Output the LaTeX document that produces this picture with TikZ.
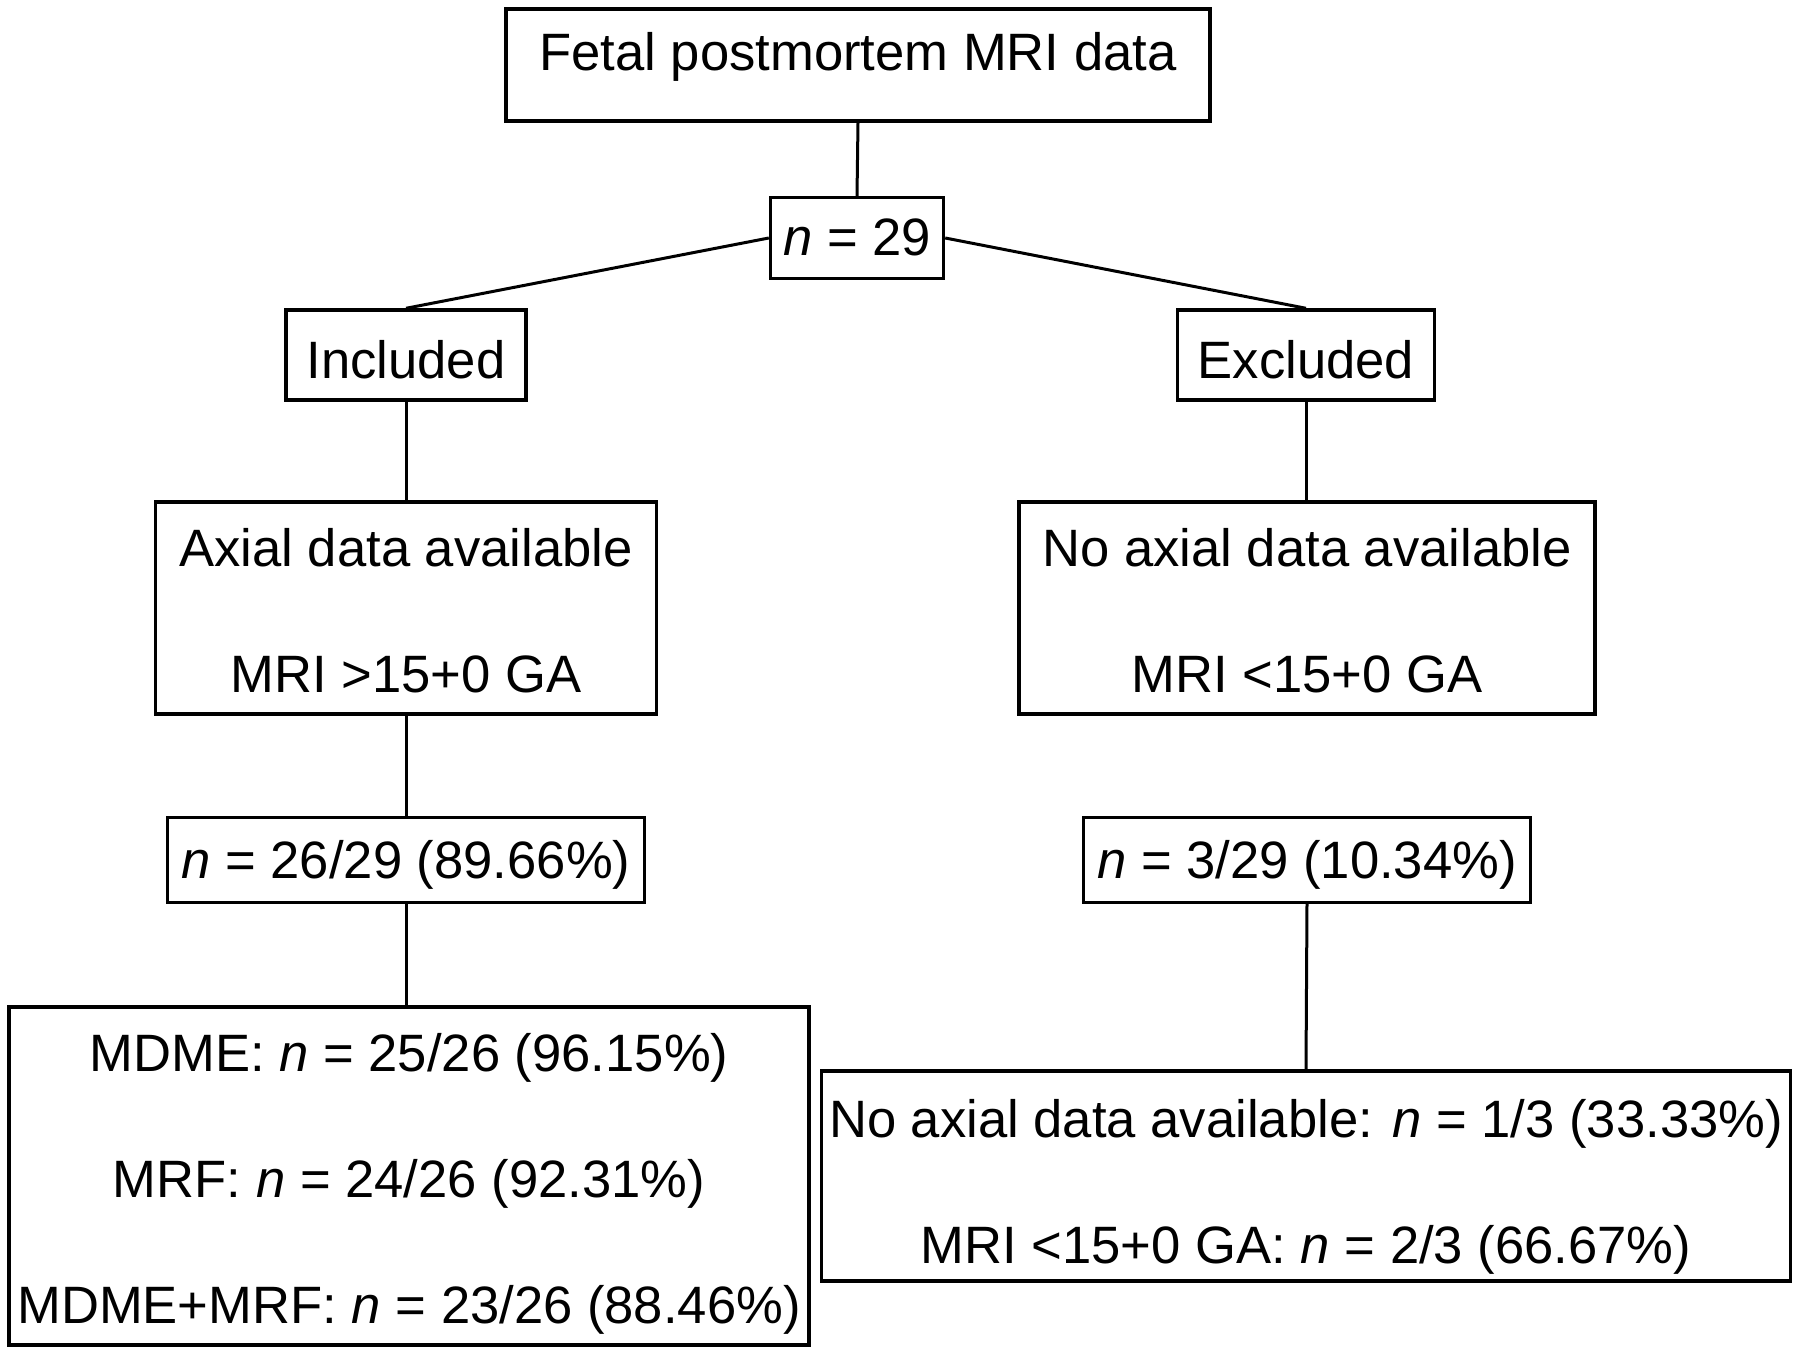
\documentclass[tikz,border=0pt]{standalone}
\usepackage{fontspec}
\setmainfont{Liberation Sans}
\begin{document}
\begin{tikzpicture}[x=0.5pt,y=-0.5pt,
  box/.style={draw, line width=1.7pt, inner sep=0pt, align=center, font=\fontsize{26.3}{31.5}\selectfont},
  one/.style={text height=24pt, text depth=6pt},
  conn/.style={line width=1.5pt}]
\useasboundingbox (0,0) rectangle (1800,1353);
\node[box, minimum width=352pt, minimum height=56pt, text height=19pt, text depth=13pt] (top) at (858,65) {Fetal postmortem MRI data};
\node[box, one, minimum width=86.5pt, minimum height=40.5pt] (n29) at (857,238) {\textit{n} = 29};
\node[box, one, text height=30pt, minimum width=120pt, minimum height=45pt] (inc) at (406,355) {Included};
\node[box, one, text height=30pt, minimum width=128.5pt, minimum height=45pt] (exc) at (1306,355) {Excluded};
\node[box, minimum width=250.5pt, minimum height=106pt] (axial) at (406,608) {\rule{0pt}{22pt}Axial data available\\[31.5pt]MRI {>}15+0 GA};
\node[box, minimum width=288pt, minimum height=106pt] (noax) at (1307,608) {\rule{0pt}{22pt}No axial data available\\[31.5pt]MRI {<}15+0 GA};
\node[box, one, minimum width=238.5pt, minimum height=42.5pt] (n26) at (406,860) {\textit{n} = 26/29 (89.66\%)};
\node[box, one, minimum width=223.5pt, minimum height=42.5pt] (n3) at (1307,860) {\textit{n} = 3/29 (10.34\%)};
\node[box, minimum width=400pt, minimum height=169pt] (mdme) at (409,1176) {\rule{0pt}{26.5pt}MDME: \textit{n} = 25/26 (96.15\%)\\[31.5pt]MRF: \textit{n} = 24/26 (92.31\%)\\[31.5pt]MDME+MRF: \textit{n} = 23/26 (88.46\%)};
\node[box, minimum width=484.5pt, minimum height=105pt] (rb) at (1306,1176) {\rule{0pt}{30pt}No axial data available: \textit{n} = 1/3 (33.33\%)\\[31.5pt]MRI {<}15+0 GA: \textit{n} = 2/3 (66.67\%)};
\draw[conn] (top.south) -- (n29.north);
\draw[conn] (n29.west) -- (inc.north);
\draw[conn] (n29.east) -- (exc.north);
\draw[conn] (inc.south) -- (axial.north);
\draw[conn] (exc.south) -- (exc.south |- noax.north);
\draw[conn] (axial.south) -- (n26.north);
\draw[conn] (noax.south) -- (noax.south -| n3.north);
\draw[conn] (n26.south) -- (n26.south |- mdme.north);
\draw[conn] (n3.south) -- (rb.north);
\end{tikzpicture}
\end{document}
